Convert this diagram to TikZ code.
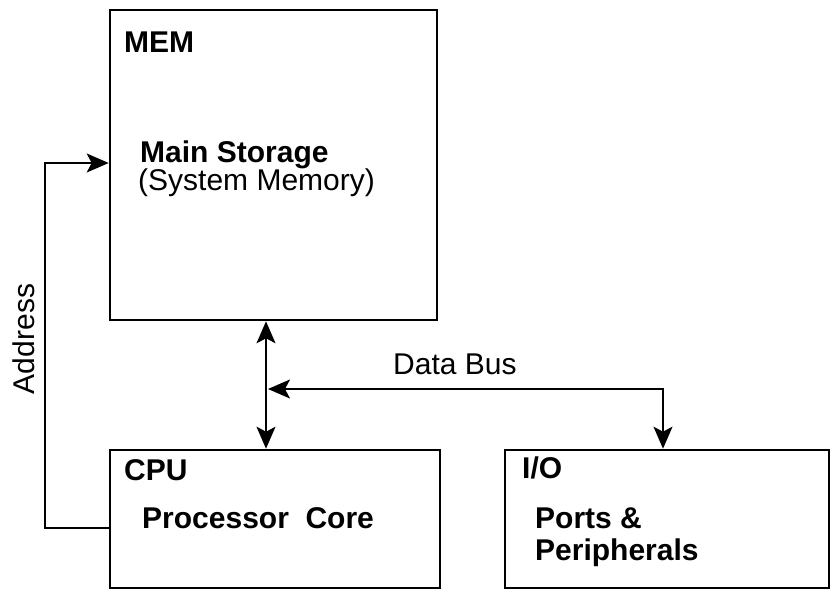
\documentclass[tikz,border=0pt]{standalone}
\usepackage{fontspec}
\setmainfont{Liberation Sans}
\usetikzlibrary{arrows.meta}
\begin{document}
\begin{tikzpicture}[x=1pt,y=1pt,
  blk/.style={draw, line width=2.6pt, minimum width=#1, inner sep=0pt},
  conn/.style={line width=1.6pt},
  hd/.tip={Stealth[length=22pt,width=19pt,inset=5pt]},
  tip/.style={-hd},
  lbl/.style={anchor=base west, inner sep=0pt, font=\fontsize{30}{34}\selectfont},
  blbl/.style={lbl, font=\fontsize{30}{34}\selectfont\bfseries}]
\useasboundingbox (0,0) rectangle (832,592);
\node[blk=327pt, minimum height=310pt] (mem) at (273.5,427) {};
\node[blk=330pt, minimum height=138pt] (cpu) at (275,73) {};
\node[blk=324pt, minimum height=138pt] (io) at (667,73) {};
% texts
\node[blbl] (memt) at (124,539) {MEM};
\node[blbl] (mst) at (140,429) {Main Storage};
\node[lbl] (msm) at (138,401) {(System Memory)};
\node[blbl] (cput) at (124,112) {CPU};
\node[blbl] (pc) at (142,64) {Processor\ \ Core};
\node[blbl] (iot) at (522,114) {I/O};
\node[blbl] (pp1) at (535,64) {Ports \&};
\node[blbl] (pp2) at (535,32) {Peripherals};
\node[lbl] (db) at (393,217) {Data Bus};
\node[lbl, rotate=90, anchor=base] (addr) at (35,253) {Address};
% connectors
\coordinate (busL) at (268,203);
\coordinate (busR) at (663,203);
\draw[conn, hd-hd] (mem.south -| 266,0) -- (cpu.north -| 266,0);
\draw[conn, hd-hd] (busL) -- (busR) -- (busR |- io.north);
\coordinate (a1) at (45,64);
\coordinate (a2) at (45,429);
\draw[conn, tip] (cpu.west |- a1) -- (a1) -- (a2) -- (mem.west |- a2);
\end{tikzpicture}
\end{document}
